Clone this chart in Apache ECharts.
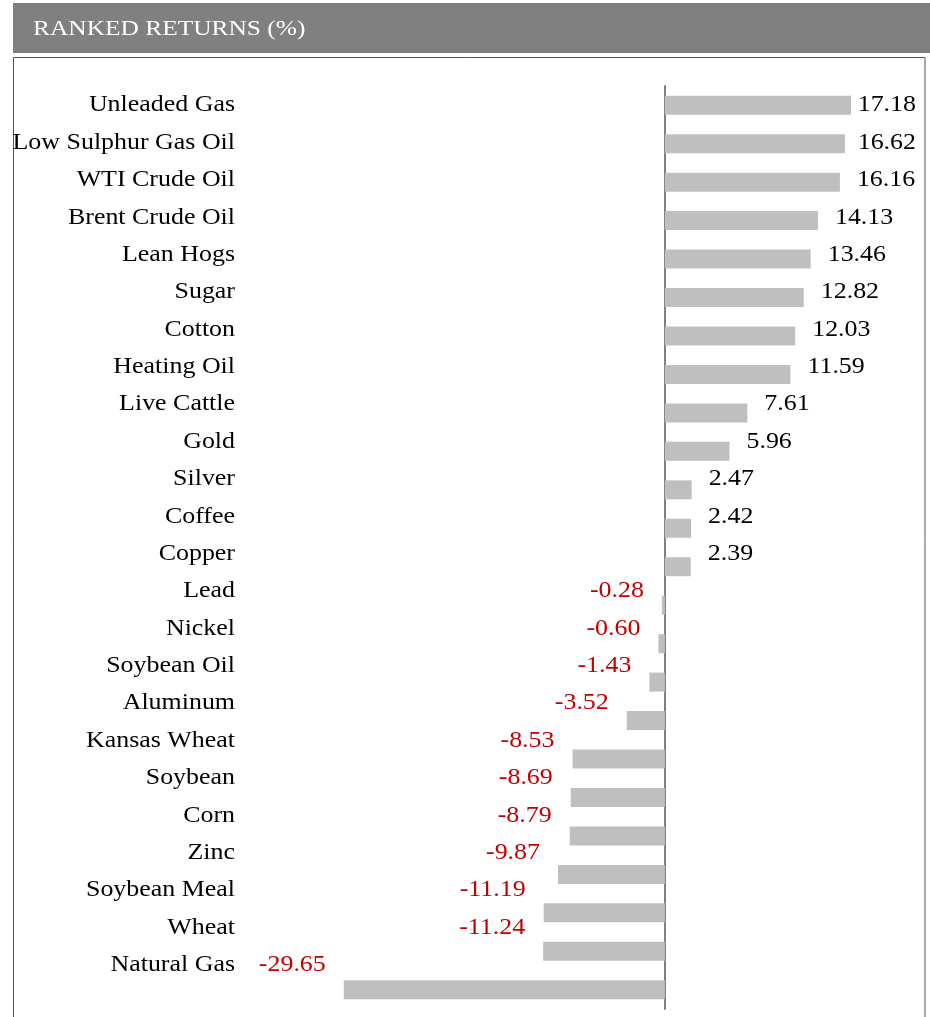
<!DOCTYPE html>
<html>
<head>
<meta charset="utf-8">
<script src="https://cdn.jsdelivr.net/npm/echarts@6/dist/echarts.min.js"></script>
<style>
  html, body { margin: 0; padding: 0; background: #fff; }
  #chart { width: 930px; height: 1017px; }
</style>
</head>
<body>
<div id="chart"></div>
<script>
var commodities = ['Unleaded Gas', 'Low Sulphur Gas Oil', 'WTI Crude Oil', 'Brent Crude Oil', 'Lean Hogs',
  'Sugar', 'Cotton', 'Heating Oil', 'Live Cattle', 'Gold', 'Silver', 'Coffee', 'Copper', 'Lead', 'Nickel',
  'Soybean Oil', 'Aluminum', 'Kansas Wheat', 'Soybean', 'Corn', 'Zinc', 'Soybean Meal', 'Wheat', 'Natural Gas'];
var returns = [17.18, 16.62, 16.16, 14.13, 13.46, 12.82, 12.03, 11.59, 7.61, 5.96, 2.47, 2.42, 2.39,
  -0.28, -0.60, -1.43, -3.52, -8.53, -8.69, -8.79, -9.87, -11.19, -11.24, -29.65];

var serif = '"Liberation Serif", "DejaVu Serif", serif';
var textFont = '24px ' + serif;
var stretch = 1.08;   // source text is a bit wider than Liberation Serif

// width of a string, used to keep the top value labels inside the frame
var measureCtx = document.createElement('canvas').getContext('2d');
measureCtx.font = textFont;
function textWidth(s) { return measureCtx.measureText(s).width * stretch; }

var chartDom = document.getElementById('chart');
var myChart = echarts.init(chartDom);
var option;

option = {
  animation: false,
  graphic: [
    { type: 'rect', shape: { x: 13, y: 3, width: 917, height: 50 }, style: { fill: '#808080' } },
    { type: 'text', x: 33, y: 29, scaleX: 1.21, style: { text: 'RANKED RETURNS (%)', fill: '#fff', font: '21px ' + serif, textVerticalAlign: 'middle' } },
    { type: 'rect', shape: { x: 13.5, y: 57.5, width: 911.5, height: 990 }, style: { fill: 'none', stroke: '#555', lineWidth: 1 } }
  ],
  grid: [
    // text rows: category names and value labels
    { left: 340, right: 48.5, top: 86.5, height: 897 },
    // bars, slightly wider spacing than the text rows
    { left: 340, right: 48.5, top: 86, height: 923 }
  ],
  xAxis: [
    { gridIndex: 0, type: 'value', min: -30, max: 20, show: false },
    { gridIndex: 1, type: 'value', min: -30, max: 20, show: false }
  ],
  yAxis: [
    {
      gridIndex: 0, type: 'category', inverse: true, data: commodities, show: false
    },
    {
      gridIndex: 1, type: 'category', inverse: true, data: commodities,
      axisLine: { show: true, onZero: true, lineStyle: { color: '#808080', width: 2 } },
      axisTick: { show: false }, axisLabel: { show: false }
    }
  ],
  series: [
    {
      // category names, right aligned on one column
      type: 'custom', xAxisIndex: 0, yAxisIndex: 0,
      data: commodities.map(function (c, i) { return [0, i]; }),
      encode: { x: 0, y: 1 },
      renderItem: function (params, api) {
        var pt = api.coord([0, api.value(1)]);
        return {
          type: 'text', x: 235, y: pt[1], scaleX: stretch,
          style: {
            text: commodities[params.dataIndex], font: textFont, fill: '#000',
            textAlign: 'right', textVerticalAlign: 'middle'
          }
        };
      }
    },
    {
      // value labels
      type: 'custom', xAxisIndex: 0, yAxisIndex: 0,
      data: returns.map(function (v, i) { return [v, i]; }),
      encode: { x: 0, y: 1 },
      renderItem: function (params, api) {
        var v = api.value(0);
        var pt = api.coord([v, api.value(1)]);
        var txt = v.toFixed(2);
        var neg = v < 0;
        var x = neg ? pt[0] - 18 : Math.min(pt[0] + 17, 916 - textWidth(txt));
        return {
          type: 'text', x: x, y: pt[1], scaleX: stretch,
          style: {
            text: txt, font: textFont, fill: neg ? '#c00000' : '#000',
            textAlign: neg ? 'right' : 'left', textVerticalAlign: 'middle'
          }
        };
      }
    },
    {
      type: 'bar', xAxisIndex: 1, yAxisIndex: 1, barWidth: 19,
      data: returns,
      itemStyle: { color: '#bfbfbf' }
    }
  ]
};

option && myChart.setOption(option);
</script>
</body>
</html>
